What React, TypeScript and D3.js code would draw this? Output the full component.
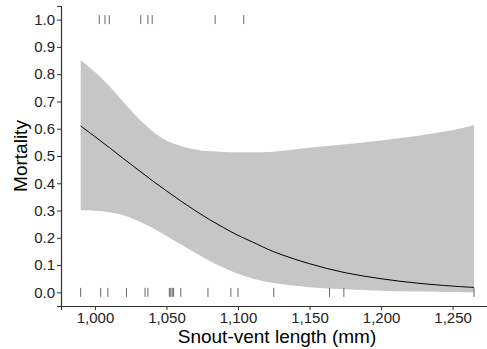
import React, { useEffect, useRef } from "react";
import * as d3 from "d3";

// values
const lengths = [990, 1000, 1010, 1020, 1030, 1040, 1050, 1060, 1070, 1080, 1090, 1100, 1110, 1125, 1150, 1175, 1200, 1225, 1250, 1265];
const fitted = [0.61, 0.571, 0.531, 0.49, 0.45, 0.41, 0.372, 0.335, 0.3, 0.267, 0.237, 0.209, 0.185, 0.149, 0.105, 0.072, 0.05, 0.034, 0.023, 0.018];
const upper = [0.851, 0.808, 0.757, 0.697, 0.64, 0.592, 0.557, 0.537, 0.524, 0.517, 0.515, 0.514, 0.514, 0.516, 0.53, 0.543, 0.557, 0.573, 0.595, 0.613];
const lower = [0.301, 0.299, 0.294, 0.283, 0.263, 0.237, 0.207, 0.176, 0.145, 0.116, 0.09, 0.068, 0.051, 0.034, 0.019, 0.011, 0.006, 0.003, 0.001, 0.0];

const deadLengths = [1003, 1007, 1010, 1032, 1037, 1040, 1084, 1104];
const aliveLengths = [990, 1004, 1009, 1022, 1035, 1037, 1052, 1053, 1054, 1055, 1060, 1079, 1095, 1100, 1125, 1164, 1174, 1265];

const xTicks = [1000, 1050, 1100, 1150, 1200, 1250];
const yTicks = [0, 0.1, 0.2, 0.3, 0.4, 0.5, 0.6, 0.7, 0.8, 0.9, 1.0];

const font = "'Liberation Sans', Arial, sans-serif";

export default function App() {
  const ref = useRef<SVGSVGElement>(null);

  useEffect(() => {
    const svg = d3.select(ref.current);
    svg.selectAll("*").remove();

    const left = 61, right = 493.7, top = 6, bottom = 306;
    const x = d3.scaleLinear().domain([976.25, 1278.75]).range([left, right]);
    const y = d3.scaleLinear().domain([-0.05, 1.05]).range([bottom, top]);

    const rows = lengths.map((l, i) => ({ l, f: fitted[i], u: upper[i], lo: lower[i] }));

    // confidence band
    const area = d3.area<any>()
      .x(d => x(d.l))
      .y0(d => y(d.lo))
      .y1(d => y(d.u))
      .curve(d3.curveCatmullRom.alpha(0.5));
    svg.append("path").datum(rows).attr("d", area).attr("fill", "#c6c6c6");

    // fitted line
    const line = d3.line<any>()
      .x(d => x(d.l))
      .y(d => y(d.f))
      .curve(d3.curveCatmullRom.alpha(0.5));
    svg.append("path").datum(rows).attr("d", line)
      .attr("fill", "none").attr("stroke", "#000").attr("stroke-width", 1);

    // rugs
    const rug = (vals: number[], v: number) => {
      svg.append("g").selectAll("line").data(vals).enter().append("line")
        .attr("x1", d => x(d)).attr("x2", d => x(d))
        .attr("y1", y(v) - 4.5).attr("y2", y(v) + 4.5)
        .attr("stroke", "#666").attr("stroke-width", 1);
    };
    rug(deadLengths, 1);
    rug(aliveLengths, 0);

    // axes
    const fmt = d3.format(",");
    const xAxis = svg.append("g")
      .attr("transform", `translate(0,${bottom})`)
      .call(d3.axisBottom(x).tickValues(xTicks).tickFormat(d => fmt(d as number)).tickSizeOuter(0).tickSize(4).tickPadding(2));
    const yAxis = svg.append("g")
      .attr("transform", `translate(${left},0)`)
      .call(d3.axisLeft(y).tickValues(yTicks).tickFormat(d3.format(".1f")).tickSizeOuter(0).tickSize(4).tickPadding(2));

    [xAxis, yAxis].forEach(g => {
      g.select(".domain").attr("stroke", "#333").attr("stroke-width", 1.2);
      g.selectAll(".tick line").attr("stroke", "#333");
      g.selectAll(".tick text")
        .attr("fill", "#222")
        .style("font-family", font)
        .style("font-size", "15px");
    });

    svg.append("text")
      .attr("x", 277).attr("y", 343)
      .attr("text-anchor", "middle")
      .style("font-family", font)
      .style("font-size", "19px")
      .text("Snout-vent length (mm)");

    svg.append("text")
      .attr("transform", `translate(27,156) rotate(-90)`)
      .attr("text-anchor", "middle")
      .style("font-family", font)
      .style("font-size", "19px")
      .text("Mortality");
  }, []);

  return (
    <svg ref={ref} width={487} height={349}
      style={{ position: "absolute", left: 0, top: 0, background: "#fff" }} />
  );
}
